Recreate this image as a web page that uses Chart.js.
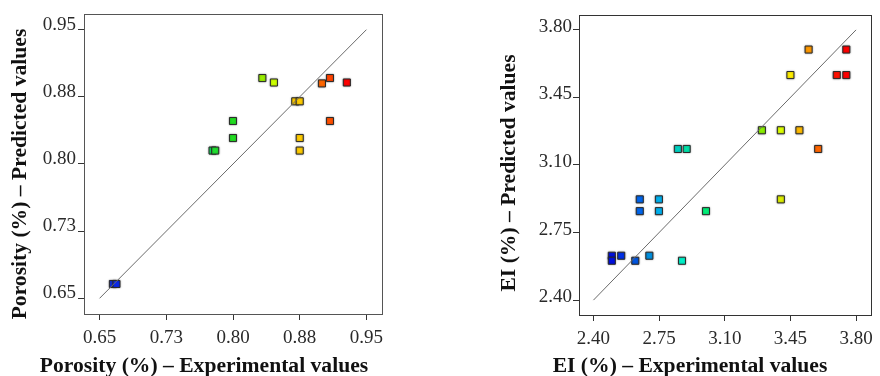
<!DOCTYPE html>
<html>
<head>
<meta charset="utf-8">
<script src="https://cdn.jsdelivr.net/npm/chart.js@4.4.1/dist/chart.umd.min.js"></script>
<style>
  html, body { margin: 0; padding: 0; background: #fff; }
  .panel { position: absolute; top: 0; width: 440px; height: 376px; }
  #left { left: 0; }
  #right { left: 440px; }
</style>
</head>
<body>
<div class="panel" id="left"><canvas id="chart-porosity"></canvas></div>
<div class="panel" id="right"><canvas id="chart-ei"></canvas></div>
<script>
// Porosity: experimental vs predicted
const poroExp  = [0.665, 0.669, 0.777, 0.780, 0.800, 0.800, 0.833, 0.846, 0.870, 0.875, 0.875, 0.875, 0.900, 0.909, 0.928, 0.909];
const poroPred = [0.666, 0.666, 0.815, 0.815, 0.829, 0.848, 0.896, 0.891, 0.870, 0.870, 0.829, 0.815, 0.890, 0.896, 0.891, 0.848];
const poroColors = ['#1030e0', '#0a28e8', '#10f060', '#20e030', '#22dd22', '#22dd22', '#99ee00', '#ccff00',
  '#ffcc00', '#ffcc00', '#ffcc00', '#ffcc00', '#ff6600', '#ff4400', '#ff0000', '#ff5000'];
const poroTicks = [0.65, 0.725, 0.80, 0.875, 0.95];
const poroTickLabels = ['0.65', '0.73', '0.80', '0.88', '0.95'];
const poroLine = [0.65, 0.95];

// EI: experimental vs predicted
const eiExp  = [2.498, 2.498, 2.548, 2.623, 2.698, 2.647, 2.647, 2.749, 2.749, 2.872, 2.850, 2.897, 3.000, 3.298, 3.399, 3.399, 3.450, 3.498, 3.547, 3.598, 3.697, 3.748, 3.748];
const eiPred = [2.630, 2.604, 2.630, 2.604, 2.630, 2.861, 2.922, 2.861, 2.922, 2.604, 3.183, 3.183, 2.861, 3.280, 3.280, 2.922, 3.566, 3.280, 3.698, 3.183, 3.566, 3.566, 3.698];
const eiColors = ['#0010e0', '#0010e0', '#0030e8', '#0055e0', '#0090e0', '#0066ee', '#0066ee', '#00b0ee', '#00b0ee',
  '#00f0c8', '#00d0c0', '#00e0a8', '#00ee77', '#88ee00', '#ddff00', '#ddee00', '#ffee00', '#ffbb00',
  '#ff9900', '#ff6600', '#ff1100', '#ff0000', '#ff0000'];
const eiTicks = [2.40, 2.75, 3.10, 3.45, 3.80];
const eiTickLabels = ['2.40', '2.75', '3.10', '3.45', '3.80'];
const eiLine = [2.40, 3.80];

const SERIF = "'Liberation Serif', 'Times New Roman', serif";

// box around the plot area
const boxPlugin = {
  id: 'box',
  afterDraw(chart, args, opts) {
    const { ctx, chartArea: a } = chart;
    ctx.save();
    ctx.strokeStyle = opts.color || '#444';
    ctx.lineWidth = 1;
    ctx.strokeRect(Math.round(a.left) + 0.5, Math.round(a.top) + 0.5,
      Math.round(a.right - a.left), Math.round(a.bottom - a.top));
    ctx.restore();
  }
};

// axis titles, centred where the original figure puts them
const titlesPlugin = {
  id: 'axisTitles',
  afterDraw(chart, args, opts) {
    const { ctx } = chart;
    ctx.save();
    ctx.fillStyle = '#111';
    ctx.font = `bold 21.6px ${SERIF}`;
    ctx.textAlign = 'center';
    ctx.textBaseline = 'middle';
    ctx.fillText(opts.xText, opts.xPos[0], opts.xPos[1]);
    ctx.translate(opts.yPos[0], opts.yPos[1]);
    ctx.rotate(-Math.PI / 2);
    ctx.fillText(opts.yText, 0, 0);
    ctx.restore();
  }
};

// soft grey halo round the markers
const haloPlugin = {
  id: 'halo',
  beforeDatasetDraw(chart, args) {
    if (args.index !== 1) return;
    chart.ctx.save();
    chart.ctx.shadowColor = 'rgba(0,0,0,0.35)';
    chart.ctx.shadowBlur = 2;
  },
  afterDatasetDraw(chart, args) {
    if (args.index !== 1) return;
    chart.ctx.restore();
  }
};

function fesGrafic(canvasId, cfg) {
  const punts = cfg.exp.map((x, i) => ({ x, y: cfg.pred[i] }));
  const linia = cfg.line.map((v) => ({ x: v, y: v }));

  const escala = (eix) => ({
    type: 'linear',
    min: cfg.min,
    max: cfg.max,
    afterBuildTicks: (scale) => {
      scale.ticks = cfg.ticks.map((v) => ({ value: v }));
    },
    afterFit: (scale) => {
      if (eix === 'x') scale.height = cfg.xHeight;
      else scale.width = cfg.yWidth;
    },
    grid: {
      drawOnChartArea: false,
      drawTicks: true,
      tickLength: 6,
      color: '#333',
      lineWidth: 1
    },
    border: { display: false },
    ticks: {
      color: '#2a2a2a',
      font: { family: SERIF, size: 19 },
      padding: eix === 'x' ? 7 : cfg.yPad,
      labelOffset: eix === 'x' ? 0 : cfg.yLabelOffset,
      maxRotation: 0,
      autoSkip: false,
      callback: (v, i) => cfg.labels[i]
    }
  });

  return new Chart(document.getElementById(canvasId).getContext('2d'), {
    type: 'scatter',
    data: {
      datasets: [
        {
          type: 'line',
          data: linia,
          borderColor: '#6a6a6a',
          borderWidth: 1,
          pointRadius: 0,
          fill: false
        },
        {
          data: punts,
          pointStyle: 'rect',
          pointRadius: 5,
          backgroundColor: cfg.colors,
          borderColor: '#2a2a2a',
          borderWidth: 1
        }
      ]
    },
    options: {
      responsive: true,
      maintainAspectRatio: false,
      animation: false,
      layout: { padding: cfg.padding },
      plugins: {
        legend: { display: false },
        tooltip: { enabled: false },
        box: { color: cfg.boxColor },
        axisTitles: cfg.titles
      },
      scales: { x: escala('x'), y: escala('y') }
    },
    plugins: [haloPlugin, boxPlugin, titlesPlugin]
  });
}

fesGrafic('chart-porosity', {
  exp: poroExp, pred: poroPred, colors: poroColors,
  ticks: poroTicks, labels: poroTickLabels, line: poroLine,
  min: 0.6325, max: 0.9675,
  padding: { top: 14, right: 58, bottom: 0, left: 0 },
  xHeight: 62, yWidth: 84, yPad: 2, yLabelOffset: -5,
  boxColor: '#555',
  titles: {
    xText: 'Porosity (%) \u2013 Experimental values', xPos: [204, 366],
    yText: 'Porosity (%) \u2013 Predicted values', yPos: [20, 174]
  }
});

fesGrafic('chart-ei', {
  exp: eiExp, pred: eiPred, colors: eiColors,
  ticks: eiTicks, labels: eiTickLabels, line: eiLine,
  min: 2.323, max: 3.877,
  padding: { top: 15, right: 4, bottom: 0, left: 0 },
  xHeight: 61, yWidth: 139, yPad: 1, yLabelOffset: -3,
  boxColor: '#333',
  titles: {
    xText: 'EI (%) \u2013 Experimental values', xPos: [250, 366],
    yText: 'EI (%) \u2013 Predicted values', yPos: [69, 173]
  }
});
</script>
</body>
</html>
